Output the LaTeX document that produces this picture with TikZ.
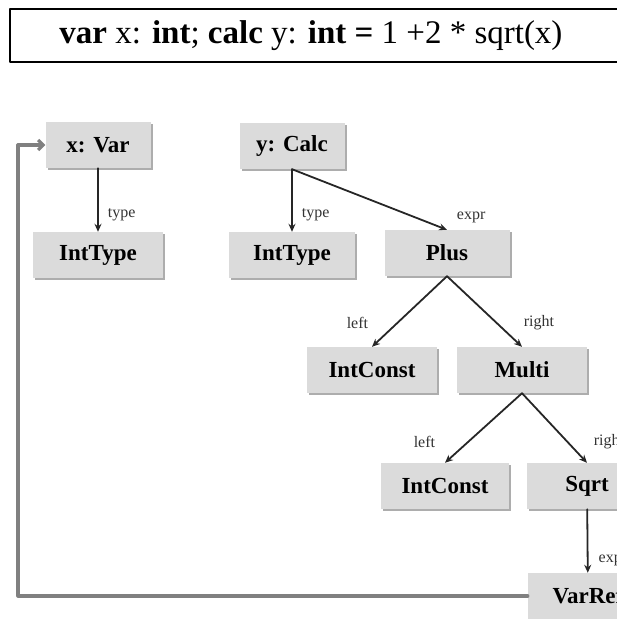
\documentclass[tikz,border=0pt]{standalone}
\usepackage{fontspec}
\setmainfont{Liberation Serif}
\usetikzlibrary{arrows.meta,positioning,shadows}

\begin{document}
\begin{tikzpicture}[x=1pt, y=-1pt, line cap=round, line join=round,
    astnode/.style={fill=black!14, inner sep=0pt, minimum height=46pt,
        font=\fontsize{23}{26}\selectfont\bfseries,
        drop shadow={shadow xshift=2pt, shadow yshift=-2pt, fill=black!32, opacity=1}},
    child/.style={draw=black!85, line width=1.8pt, -{Stealth[length=8pt,width=7pt]}},
    role/.style={font=\fontsize{16}{18}\selectfont, text=black!80, inner sep=0pt},
    backref/.style={draw=black!50, line width=3.2pt, -{Straight Barb[length=5pt,width=10pt]}}]

    \useasboundingbox (0,0) rectangle (617,619);
    \clip (0,0) rectangle (617,619);

    % source text
    \node[draw, line width=1.6pt, anchor=north west, minimum width=660pt, minimum height=53pt,
        inner sep=0pt] (src) at (9,8) {};
    \node[font=\fontsize{33}{36}\selectfont] (code) at (311,36)
        {\textbf{var} x: \textbf{int}; \textbf{calc} y: \textbf{int =} 1 +2 * sqrt(x)};

    % syntax tree
    \node[astnode, minimum width=105pt] (xvar) at (98,145) {x: Var};
    \node[astnode, minimum width=130pt] (ityp1) at (98,255) {IntType};
    \node[astnode, minimum width=105pt] (ycalc) at (292,146) {y: Calc};
    \node[astnode, minimum width=126pt] (ityp2) at (292,255) {IntType};
    \node[astnode, minimum width=125pt] (plus) at (447,253) {Plus};
    \node[astnode, minimum width=130pt] (ic1) at (372,370) {IntConst};
    \node[astnode, minimum width=130pt] (multi) at (522,370) {Multi};
    \node[astnode, minimum width=128pt] (ic2) at (445,486) {IntConst};
    \node[astnode, minimum width=120pt] (sqrt) at (587,486) {Sqrt};
    \node[astnode, minimum width=120pt] (varref) at (588,596) {VarRef};

    \draw[child] (xvar) -- (ityp1)
        node[role, at end, anchor=west, xshift=9pt, yshift=17pt] (t1) {type};
    \draw[child] (ycalc.south) -- (ityp2.north)
        node[role, at end, anchor=west, xshift=9pt, yshift=17pt] (t2) {type};
    \draw[child] (ycalc.south) -- (plus.north)
        node[role, at end, anchor=west, xshift=9pt, yshift=12pt] (e1) {expr};
    \draw[child] (plus.south) -- (ic1.north)
        node[role, at end, anchor=east, xshift=-3pt, yshift=24pt] (l1) {left};
    \draw[child] (plus.south) -- (multi.north)
        node[role, at end, anchor=west, xshift=1pt, yshift=24pt] (r1) {right};
    \draw[child] (multi.south) -- (ic2.north)
        node[role, at end, anchor=east, xshift=-9pt, yshift=21pt] (l2) {left};
    \draw[child] (multi.south) -- (sqrt.north)
        node[role, at end, anchor=west, xshift=6pt, yshift=21pt] (r2) {right};
    \draw[child] (sqrt) -- (varref)
        node[role, at end, anchor=west, xshift=10pt, yshift=12pt] (e2) {expr};

    % reference back to the declaration
    \coordinate (bend) at (18,145);
    \draw[backref] (varref.west) -| (bend) -- (xvar.west);
\end{tikzpicture}
\end{document}
